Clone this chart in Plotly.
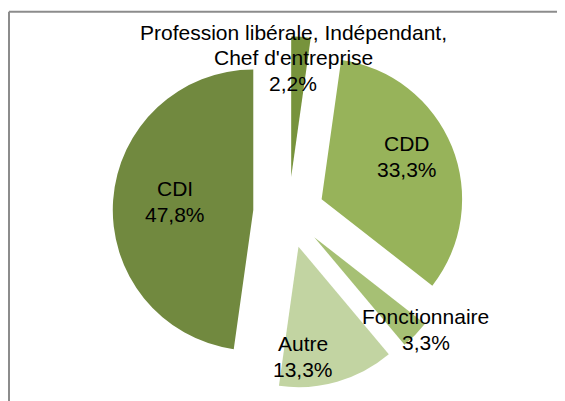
import plotly.graph_objects as go

# Data (counts out of 90 respondents)
labels = ["Profession libérale, Indépendant, Chef d'entreprise", "CDD", "Fonctionnaire", "Autre", "CDI"]
values = [2, 30, 3, 12, 43]
colors = ["#77933C", "#97B35A", "#A6C074", "#C2D4A2", "#71893F"]

# Label layout (pixel centres of each text line block in the page, line wrapping)
label_lines = [
    ["Profession libérale, Indépendant,", "Chef d'entreprise"],
    ["CDD"],
    ["Fonctionnaire"],
    ["Autre"],
    ["CDI"],
]
label_pos = [(293, 32.5), (406.7, 143.7), (425.6, 316.7), (302.7, 343.7), (175, 188.8)]
LINE_H = 25.4

OFF = 8  # page body margin
W, H = 565 - OFF, 401 - OFF
total = sum(values)

CX, CY, BOX = 288.7 - OFF, 212.5 - OFF, 176

fig = go.Figure(go.Pie(
    labels=labels,
    values=values,
    sort=False,
    direction="clockwise",
    rotation=0,
    pull=[0.2527] * len(values),
    marker=dict(colors=colors, line=dict(width=0)),
    textinfo="none",
    hoverinfo="label+percent",
    showlegend=False,
    domain=dict(x=[(CX - BOX) / W, (CX + BOX) / W],
                y=[(H - CY - BOX) / H, (H - CY + BOX) / H]),
))

annotations = []
for lab_lines, (px, py), v in zip(label_lines, label_pos, values):
    pct = f"{v / total * 100:.1f}".replace(".", ",") + "%"
    lines = lab_lines + [pct]
    for i, line in enumerate(lines):
        annotations.append(dict(
            text=line, x=(px - OFF) / W, y=1 - (py - OFF + i * LINE_H) / H,
            xref="paper", yref="paper", xanchor="center", yanchor="middle",
            showarrow=False, font=dict(family="Liberation Sans, Arial", size=21, color="#000000"),
        ))

bx, by = 1.0, 3.8
shapes = [
    dict(type="line", xref="paper", yref="paper", x0=bx / W, x1=1.02, y0=1 - by / H, y1=1 - by / H,
         line=dict(color="#8C8C8C", width=2)),
    dict(type="line", xref="paper", yref="paper", x0=bx / W, x1=bx / W, y0=1 - by / H, y1=-0.02,
         line=dict(color="#8C8C8C", width=2)),
]

fig.update_layout(
    width=W, height=H,
    margin=dict(l=0, r=0, t=0, b=0),
    paper_bgcolor="white", plot_bgcolor="white",
    annotations=annotations,
    shapes=shapes,
)

fig.write_html("out.html")
